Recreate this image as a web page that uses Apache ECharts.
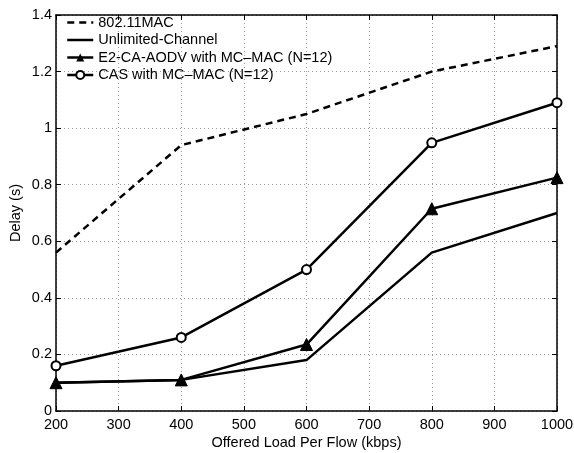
<!DOCTYPE html>
<html>
<head>
<meta charset="utf-8">
<script src="https://cdn.jsdelivr.net/npm/echarts@6/dist/echarts.min.js"></script>
<style>
  html, body { margin: 0; padding: 0; background: #fff; }
  #chart { width: 574px; height: 453px; }
</style>
</head>
<body>
<div id="chart"></div>
<script>
// Offered load per flow (kbps)
const loads = [200, 400, 600, 800, 1000];

// Delay (s) for each scheme
const mac80211 = [0.56, 0.94, 1.05, 1.20, 1.29];
const unlimitedChannel = [0.10, 0.11, 0.18, 0.56, 0.70];
const e2caAodv = [0.10, 0.11, 0.235, 0.715, 0.825];
const casMcMac = [0.16, 0.26, 0.50, 0.948, 1.09];

const xTicks = [200, 300, 400, 500, 600, 700, 800, 900, 1000];
const yTicks = [0, 0.2, 0.4, 0.6, 0.8, 1, 1.2, 1.4];

const seriesNames = [
  '802.11MAC',
  'Unlimited-Channel',
  'E2-CA-AODV with MC\u2013MAC (N=12)',
  'CAS with MC\u2013MAC (N=12)'
];

const pairs = (vals) => loads.map((x, i) => [x, vals[i]]);

const FONT = 'Liberation Sans, Arial, Helvetica, sans-serif';
const FS = 14.5;
const gridLine = { show: true, lineStyle: { color: '#9a9a9a', width: 1, type: [1, 3] } };
const boxLine = { show: true, onZero: false, lineStyle: { color: '#000', width: 1.5 } };
const tick = { show: true, inside: true, length: 5, lineStyle: { color: '#000', width: 1 } };
// plain line entries carry no marker in the legend
const noMarker = { opacity: 0 };

const chart = echarts.init(document.getElementById('chart'), null, { renderer: 'canvas' });

chart.setOption({
  animation: false,
  backgroundColor: '#fff',
  textStyle: { fontFamily: FONT },
  grid: { left: 56, right: 17, top: 15, bottom: 42, containLabel: false, outerBoundsMode: 'none' },
  legend: {
    orient: 'vertical',
    left: 66,
    top: 15,
    itemWidth: 26,
    itemHeight: 10,
    itemGap: 2.5,
    padding: 0,
    lineStyle: { width: 2.5 },
    textStyle: { fontSize: FS, color: '#000', fontFamily: FONT },
    data: [
      { name: seriesNames[0], itemStyle: noMarker },
      { name: seriesNames[1], itemStyle: noMarker },
      { name: seriesNames[2] },
      { name: seriesNames[3] }
    ]
  },
  xAxis: [
    {
      type: 'value', min: 200, max: 1000, interval: 100,
      axisLine: boxLine, axisTick: tick, splitLine: gridLine,
      axisLabel: { color: '#000', fontSize: FS, margin: 6, fontFamily: FONT,
        formatter: (v) => xTicks.includes(v) ? String(v) : '' },
      name: 'Offered Load Per Flow (kbps)', nameLocation: 'middle', nameGap: 24,
      nameMoveOverlap: false,
      nameTextStyle: { color: '#000', fontSize: FS, fontFamily: FONT }
    },
    {
      type: 'value', position: 'top', min: 200, max: 1000, interval: 100,
      axisLine: boxLine, axisTick: tick, splitLine: { show: false }, axisLabel: { show: false }
    }
  ],
  yAxis: [
    {
      type: 'value', min: 0, max: 1.4, interval: 0.2,
      axisLine: boxLine, axisTick: tick, splitLine: gridLine,
      axisLabel: { color: '#000', fontSize: FS, margin: 4, fontFamily: FONT,
        formatter: (v) => {
          const t = yTicks.find((y) => Math.abs(y - v) < 1e-9);
          return t === undefined ? '' : String(t);
        } },
      name: 'Delay (s)', nameLocation: 'middle', nameGap: 33,
      nameMoveOverlap: false,
      nameTextStyle: { color: '#000', fontSize: FS, fontFamily: FONT }
    },
    {
      type: 'value', position: 'right', min: 0, max: 1.4, interval: 0.2,
      axisLine: boxLine, axisTick: tick, splitLine: { show: false }, axisLabel: { show: false }
    }
  ],
  series: [
    {
      name: seriesNames[0], type: 'line', data: pairs(mac80211),
      symbol: 'none', lineStyle: { color: '#000', width: 2.5, type: [7, 5] },
      itemStyle: { color: '#000' }
    },
    {
      name: seriesNames[1], type: 'line', data: pairs(unlimitedChannel),
      symbol: 'none', lineStyle: { color: '#000', width: 2.5 },
      itemStyle: { color: '#000' }
    },
    {
      name: seriesNames[2], type: 'line', data: pairs(e2caAodv),
      symbol: 'triangle', symbolSize: 12, lineStyle: { color: '#000', width: 2.5 },
      itemStyle: { color: '#000', borderColor: '#000' }
    },
    {
      name: seriesNames[3], type: 'line', data: pairs(casMcMac),
      symbol: 'circle', symbolSize: 9, lineStyle: { color: '#000', width: 2.5 },
      itemStyle: { color: '#fff', borderColor: '#000', borderWidth: 2 }
    }
  ]
});
</script>
</body>
</html>
